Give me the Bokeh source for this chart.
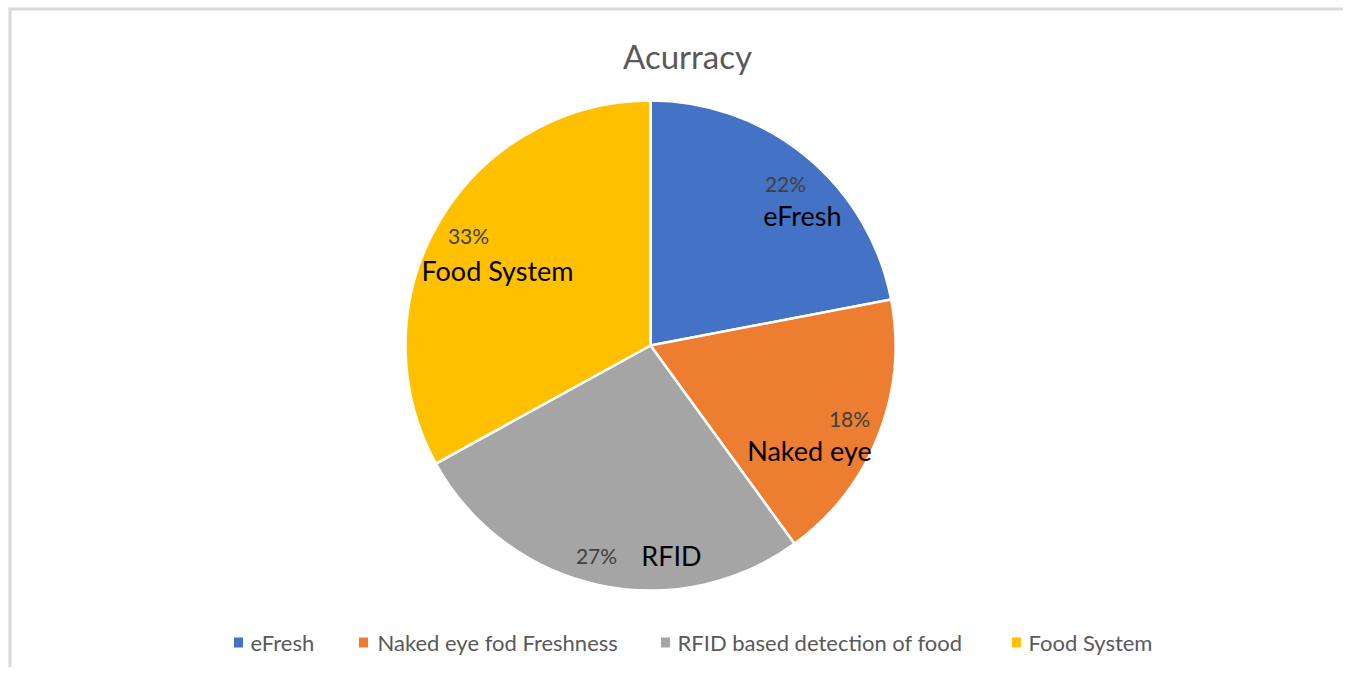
import math
from bokeh.plotting import figure
from bokeh.models import Range1d, ColumnDataSource
from bokeh.core.properties import value
from bokeh.embed import file_html
from bokeh.resources import INLINE

# ---- data ----
categories = ["eFresh", "Naked eye fod Freshness", "RFID based detection of food", "Food System"]
short_names = ["eFresh", "Naked eye", "RFID", "Food System"]
shares = [22, 18, 27, 33]
colors = ["#4472C4", "#ED7D31", "#A5A5A5", "#FFC000"]
title_text = "Acurracy"

# ---- layout (page pixel coordinates) ----
W, H = 1343, 667
PAGE_H = 675
def Y(yp):
    return PAGE_H - yp

cx, cy, R = 650, Y(345), 245
pct_pos = [(785, 183), (849, 418), (596, 555), (468, 235)]
name_pos = [(802, 215), (809, 450), (671, 555), (497, 270)]
legend_sq_x = [238, 363, 665, 1016]
legend_txt_x = [250, 377, 677, 1028]
legend_y = 642
FONT = "Lato"

p = figure(width=W, height=H, output_backend="svg", toolbar_location=None,
           x_range=Range1d(0, W), y_range=Range1d(PAGE_H - H, PAGE_H),
           x_axis_type=None, y_axis_type=None, min_border=0)
p.grid.visible = False
p.outline_line_color = None
p.background_fill_color = "white"
p.border_fill_color = "white"

# border (top and left visible)
p.segment(x0=[9.5, 8], y0=[Y(8), Y(8.5)], x1=[9.5, W], y1=[Y(675), Y(8.5)],
          line_color="#d9d9d9", line_width=3)

# wedges
total = sum(shares)
starts, ends = [], []
cum = 0
for s in shares:
    a0 = math.pi / 2 - 2 * math.pi * cum / total
    cum += s
    a1 = math.pi / 2 - 2 * math.pi * cum / total
    starts.append(a0)
    ends.append(a1)
src = ColumnDataSource(dict(start=starts, end=ends, color=colors, name=categories))
p.wedge(x=cx, y=cy, radius=R, start_angle="start", end_angle="end", direction="clock",
        fill_color="color", line_color="white", line_width=2.5, source=src)

# data labels
pct_labels = [f"{round(100 * s / total)}%" for s in shares]
p.text(x=[q[0] for q in pct_pos], y=[Y(q[1]) for q in pct_pos], text=pct_labels,
       text_font=value(FONT), text_font_size="21px", text_color="#404040",
       text_align="center", text_baseline="middle")
p.text(x=[q[0] for q in name_pos], y=[Y(q[1]) for q in name_pos], text=short_names,
       text_font=value(FONT), text_font_size="27px", text_color="#000000",
       text_align="center", text_baseline="middle")

# title
p.text(x=[687], y=[Y(55)], text=[title_text], text_font=value(FONT), text_font_size="33px",
       text_color="#595959", text_align="center", text_baseline="middle")

# legend
p.rect(x=legend_sq_x, y=[Y(legend_y)] * 4, width=9, height=10, fill_color=colors, line_color=None)
p.text(x=legend_txt_x, y=[Y(legend_y)] * 4, text=categories, text_font=value(FONT),
       text_font_size="22px", text_color="#595959", text_align="left", text_baseline="middle")

open("out.html", "w").write(file_html(p, INLINE))
